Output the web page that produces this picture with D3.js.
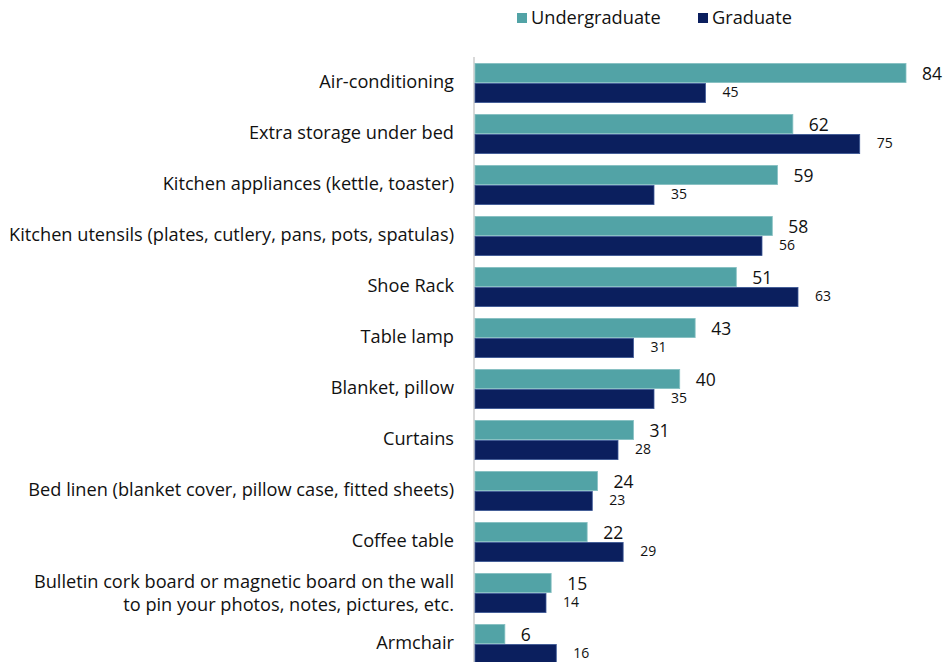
<!DOCTYPE html>
<html>
<head>
<meta charset="utf-8">
<script src="https://cdn.jsdelivr.net/npm/d3@7"></script>
<style>
  html, body { margin: 0; padding: 0; background: #fff; }
  svg { display: block; font-family: "Open Sans", "Liberation Sans", sans-serif; }
</style>
</head>
<body>
<svg id="chart" width="944" height="662"></svg>
<script>
const categories = [
  ["Air-conditioning"],
  ["Extra storage under bed"],
  ["Kitchen appliances (kettle, toaster)"],
  ["Kitchen utensils (plates, cutlery, pans, pots, spatulas)"],
  ["Shoe Rack"],
  ["Table lamp"],
  ["Blanket, pillow"],
  ["Curtains"],
  ["Bed linen (blanket cover, pillow case, fitted sheets)"],
  ["Coffee table"],
  ["Bulletin cork board or magnetic board on the wall", "to pin your photos, notes, pictures, etc."],
  ["Armchair"]
];
const seriesNames = ["Undergraduate", "Graduate"];
const undergraduate = [84, 62, 59, 58, 51, 43, 40, 31, 24, 22, 15, 6];
const graduate = [45, 75, 35, 56, 63, 31, 35, 28, 23, 29, 14, 16];

const colors = { Undergraduate: "#52a3a6", Graduate: "#0b1f5e" };
const strokes = { Undergraduate: "#86c0c2", Graduate: "#3d5896" };

const svg = d3.select("#chart");
const keys = categories.map((c, i) => i);

const x = d3.scaleLinear().domain([0, 84]).range([474, 906]);
const y = d3.scaleBand().domain(keys).range([57.5, 669.5])
  .paddingInner(11 / 51).paddingOuter(11 / 102);
const ySub = d3.scaleBand().domain(seriesNames).range([0, y.bandwidth()]);

// axis line
svg.append("line")
  .attr("x1", x(0)).attr("x2", x(0))
  .attr("y1", 57).attr("y2", 662)
  .attr("stroke", "#d9d9d9").attr("stroke-width", 2);

const rows = keys.map(i => ({ i, vals: [
  { s: "Undergraduate", v: undergraduate[i] },
  { s: "Graduate", v: graduate[i] }
]}));

const g = svg.selectAll("g.row").data(rows).join("g")
  .attr("class", "row")
  .attr("transform", d => `translate(0,${y(d.i)})`);

g.selectAll("rect").data(d => d.vals).join("rect")
  .attr("x", x(0) + 1)
  .attr("y", d => ySub(d.s) + 0.4)
  .attr("width", d => x(d.v) - x(0) - 1)
  .attr("height", ySub.bandwidth() - 0.8)
  .attr("fill", d => colors[d.s])
  .attr("stroke", d => strokes[d.s])
  .attr("stroke-width", 0.8);

g.selectAll("text.val").data(d => d.vals).join("text")
  .attr("class", "val")
  .attr("x", d => x(d.v) + (d.s === "Undergraduate" ? 16 : 17))
  .attr("y", d => ySub(d.s) + ySub.bandwidth() / 2 + (d.s === "Undergraduate" ? 2 : 0.5))
  .attr("dominant-baseline", "middle")
  .attr("font-size", d => d.s === "Undergraduate" ? 17.5 : 14)
  .attr("fill", "#111")
  .text(d => d.v);

// category labels
const lab = g.append("text")
  .attr("text-anchor", "end")
  .attr("font-size", 18.2)
  .attr("fill", "#111")
  .attr("x", 454);
lab.each(function(d) {
  const lines = categories[d.i];
  const t = d3.select(this);
  const c = y.bandwidth() / 2;
  if (lines.length === 1) {
    t.append("tspan").attr("x", 454).attr("y", c).attr("dominant-baseline", "middle").text(lines[0]);
  } else {
    t.append("tspan").attr("x", 454).attr("y", c - 10).attr("dominant-baseline", "middle").text(lines[0]);
    t.append("tspan").attr("x", 454).attr("y", c + 13).attr("dominant-baseline", "middle").text(lines[1]);
  }
});

// legend
const legendX = [517, 698];
const lg = svg.selectAll("g.legend").data(seriesNames).join("g")
  .attr("class", "legend")
  .attr("transform", (d, i) => `translate(${legendX[i]},13)`);
lg.append("rect").attr("width", 10).attr("height", 10).attr("fill", d => colors[d]);
lg.append("text").attr("x", 14).attr("y", 6).attr("dominant-baseline", "middle")
  .attr("font-size", 18.2).attr("fill", "#111").text(d => d);
</script>
</body>
</html>
